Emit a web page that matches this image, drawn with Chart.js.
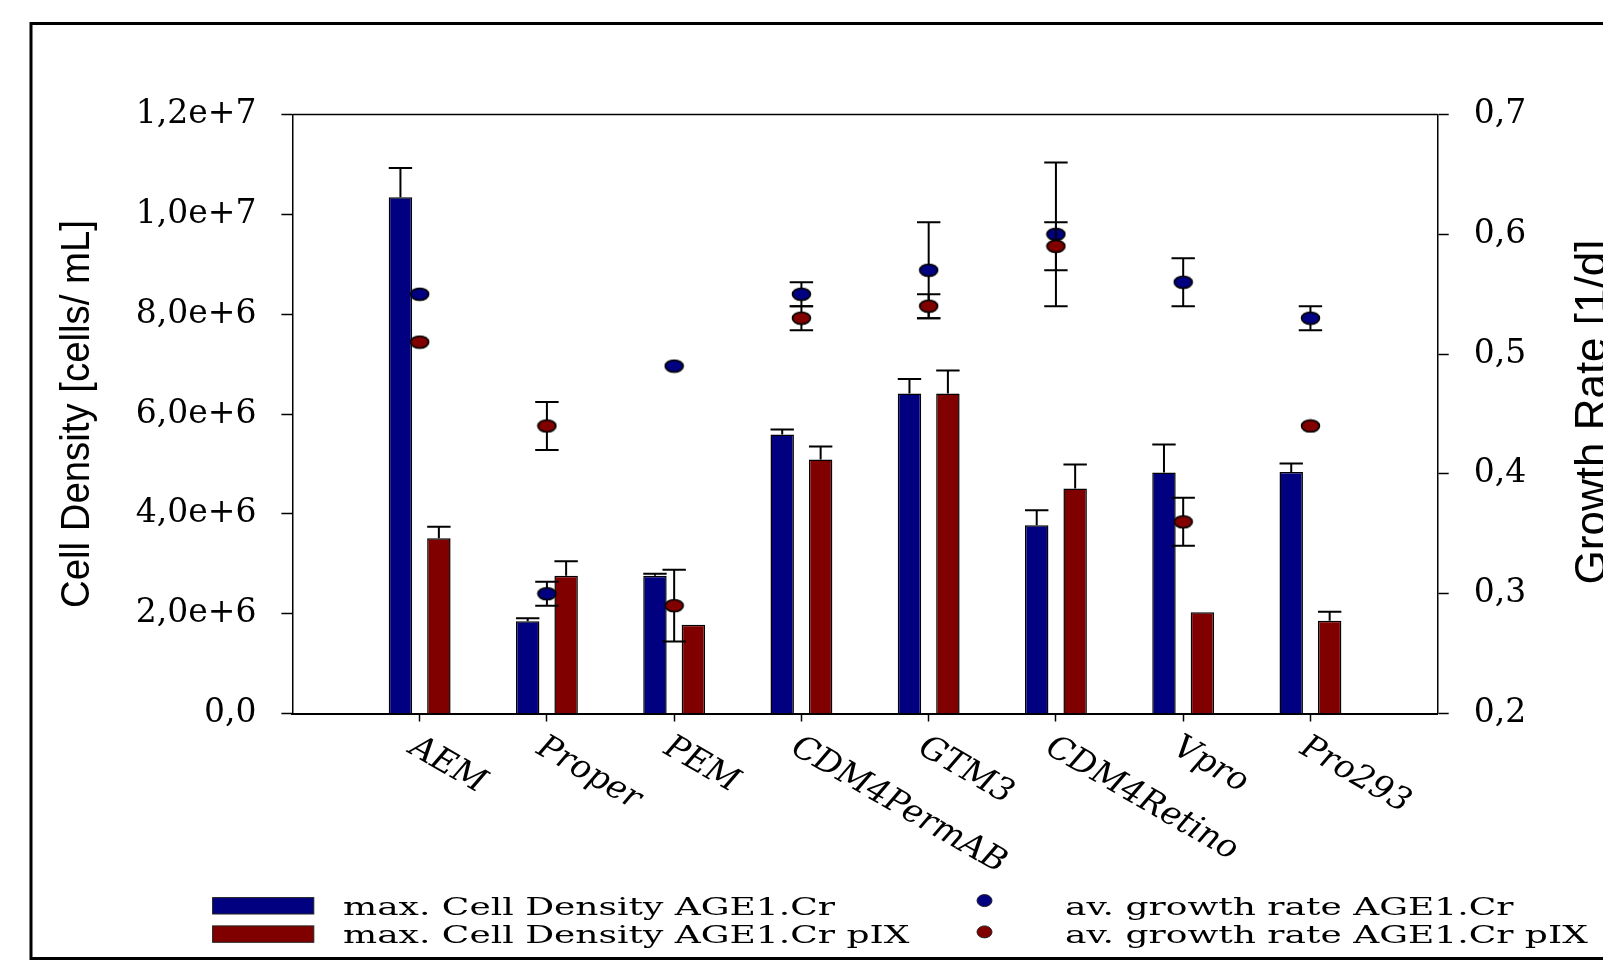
<!DOCTYPE html>
<html>
<head>
  <title>Cell Density and Growth Rate</title>
  <script src="https://cdn.jsdelivr.net/npm/chart.js"></script>
  <style>
    body { margin: 0; background: #fff; }
    canvas { display: block; }
  </style>
</head>
<body>
  <canvas id="myChart" width="1603" height="961"></canvas>

  <script>
    // media tested
    const categories = ['AEM', 'Proper', 'PEM', 'CDM4PermAB', 'GTM3', 'CDM4Retino', 'Vpro', 'Pro293'];

    // max. cell density [cells/mL] with upper error
    const densityAge    = [1.034e7, 1.85e6, 2.76e6, 5.59e6, 6.41e6, 3.77e6, 4.83e6, 4.84e6];
    const densityAgeErr = [5.9e5, 6e4, 4e4, 1e5, 2.9e5, 3.0e5, 5.6e5, 1.7e5];
    const densityPix    = [3.51e6, 2.76e6, 1.78e6, 5.09e6, 6.41e6, 4.51e6, 2.03e6, 1.86e6];
    const densityPixErr = [2.3e5, 2.9e5, 0, 2.6e5, 4.6e5, 4.8e5, 0, 1.8e5];

    // average growth rate [1/d] with +/- error
    const growthAge    = [0.55, 0.30, 0.49, 0.55, 0.57, 0.60, 0.56, 0.53];
    const growthAgeErr = [0, 0.01, 0, 0.01, 0.04, 0.06, 0.02, 0.01];
    const growthPix    = [0.51, 0.44, 0.29, 0.53, 0.54, 0.59, 0.36, 0.44];
    const growthPixErr = [0, 0.02, 0.03, 0.01, 0.01, 0.02, 0.02, 0];

    const navy = '#000080', maroon = '#800000';

    // one empty slot on each side, so the groups sit one step in from the axes
    const xLabels = ['', ...categories, ''];
    const pad = arr => [null, ...arr, null];

    // growth rate points are drawn as flat ellipses
    function ellipseMarker(color) {
      const c = document.createElement('canvas');
      c.width = 21; c.height = 15;
      const g = c.getContext('2d');
      g.beginPath();
      g.ellipse(10.5, 7.5, 9, 6, 0, 0, Math.PI * 2);
      g.fillStyle = color;
      g.fill();
      g.lineWidth = 1.6;
      g.strokeStyle = '#000';
      g.stroke();
      return c;
    }

    function drawErrors(chart, meta, upOnly) {
      const ds = chart.data.datasets[meta.index];
      if (!ds.errors) return;
      const yScale = chart.scales[meta.yAxisID];
      const ctx = chart.ctx;
      const half = 11.7;
      ctx.save();
      ctx.strokeStyle = '#000';
      ctx.lineWidth = 2;
      meta.data.forEach((el, i) => {
        const v = ds.data[i], e = ds.errors[i];
        if (v == null || !e) return;
        const x = el.x;
        const top = yScale.getPixelForValue(v + e);
        const bottom = upOnly ? el.y : yScale.getPixelForValue(v - e);
        ctx.beginPath();
        ctx.moveTo(x, bottom); ctx.lineTo(x, top);
        ctx.moveTo(x - half, top); ctx.lineTo(x + half, top);
        if (!upOnly) { ctx.moveTo(x - half, bottom); ctx.lineTo(x + half, bottom); }
        ctx.stroke();
      });
      ctx.restore();
    }

    const errorBars = {
      id: 'errorBars',
      // point errors go under the points, bar errors on top of the bars
      beforeDatasetDraw(chart, args) { if (args.meta.type === 'line') drawErrors(chart, args.meta, false); },
      afterDatasetDraw(chart, args) { if (args.meta.type === 'bar') drawErrors(chart, args.meta, true); }
    };

    const decorations = {
      id: 'decorations',
      afterDraw(chart) {
        const ctx = chart.ctx, area = chart.chartArea, xs = chart.scales.x;
        ctx.save();
        ctx.fillStyle = '#000';
        ctx.strokeStyle = '#000';

        // outer frame
        ctx.lineWidth = 3;
        ctx.beginPath();
        ctx.moveTo(1603, 23.5); ctx.lineTo(31, 23.5); ctx.lineTo(31, 958.5); ctx.lineTo(1603, 958.5);
        ctx.stroke();

        // top edge of the plot box
        ctx.lineWidth = 1.5;
        ctx.beginPath();
        ctx.moveTo(area.left, area.top); ctx.lineTo(area.right, area.top);
        ctx.stroke();

        // slanted category labels
        ctx.font = 'italic 33px "DejaVu Serif"';
        ctx.textAlign = 'left';
        ctx.textBaseline = 'alphabetic';
        categories.forEach((c, i) => {
          const x = xs.getPixelForValue(i + 1);
          ctx.save();
          ctx.translate(x - 12, area.bottom + 39);
          ctx.rotate(Math.PI / 6);
          ctx.fillText(c, 0, 0);
          ctx.restore();
        });

        // axis titles, narrow sans
        ctx.font = '40px "Liberation Sans"';
        ctx.textAlign = 'center';
        const leftTitle = 'Cell Density [cells/ mL]';
        const sx = 388 / ctx.measureText(leftTitle).width;
        ctx.save();
        ctx.translate(78, (area.top + area.bottom) / 2);
        ctx.rotate(-Math.PI / 2);
        ctx.scale(sx, 1);
        ctx.textBaseline = 'middle';
        ctx.fillText(leftTitle, 0, 0);
        ctx.restore();

        // right title runs off the edge of the figure
        ctx.font = '44px "Liberation Sans"';
        ctx.save();
        ctx.translate(1606, (area.top + area.bottom) / 2 - 2);
        ctx.rotate(-Math.PI / 2);
        ctx.textBaseline = 'alphabetic';
        ctx.fillText('Growth Rate [1/d]', 0, 0);
        ctx.restore();

        // legend, two columns
        const ds = chart.data.datasets;
        ctx.font = '25px "DejaVu Serif"';
        ctx.textAlign = 'left';
        ctx.textBaseline = 'alphabetic';
        const lx = 492 / ctx.measureText(ds[0].label).width;
        const rows = [915, 943.3];
        [0, 1].forEach(r => {
          const bar = ds[r], dot = ds[r + 2];
          ctx.fillStyle = bar.backgroundColor;
          ctx.fillRect(212.6, rows[r] - 17.4, 101.2, 16.4);
          ctx.lineWidth = 1;
          ctx.strokeStyle = '#222';
          ctx.strokeRect(212.6, rows[r] - 17.4, 101.2, 16.4);

          ctx.beginPath();
          ctx.ellipse(984.5, rows[r] - 14.4 + r * 3, 7.5, 6, 0, 0, Math.PI * 2);
          ctx.fillStyle = dot.pointBackgroundColor;
          ctx.fill();
          ctx.stroke();

          ctx.fillStyle = '#000';
          ctx.save();
          ctx.translate(343, rows[r]);
          ctx.scale(lx, 1);
          ctx.fillText(bar.label, 0, 0);
          ctx.restore();
          ctx.save();
          ctx.translate(1065, rows[r]);
          ctx.scale(lx, 1);
          ctx.fillText(dot.label, 0, 0);
          ctx.restore();
        });
        ctx.restore();
      }
    };

    Chart.defaults.font.family = '"DejaVu Serif"';
    Chart.defaults.color = '#000';

    new Chart(document.getElementById('myChart').getContext('2d'), {
      type: 'bar',
      data: {
        labels: xLabels,
        datasets: [
          { label: 'max. Cell Density AGE1.Cr', data: pad(densityAge), errors: pad(densityAgeErr),
            backgroundColor: navy, borderColor: '#000', borderWidth: 1.5, yAxisID: 'y', order: 3,
            categoryPercentage: 0.604, barPercentage: 0.61 },
          { label: 'max. Cell Density AGE1.Cr pIX', data: pad(densityPix), errors: pad(densityPixErr),
            backgroundColor: maroon, borderColor: '#000', borderWidth: 1.5, yAxisID: 'y', order: 3,
            categoryPercentage: 0.604, barPercentage: 0.61 },
          { type: 'line', label: 'av. growth rate AGE1.Cr', data: pad(growthAge), errors: pad(growthAgeErr),
            showLine: false, pointStyle: ellipseMarker(navy), pointBackgroundColor: navy, yAxisID: 'y2', order: 2 },
          { type: 'line', label: 'av. growth rate AGE1.Cr pIX', data: pad(growthPix), errors: pad(growthPixErr),
            showLine: false, pointStyle: ellipseMarker(maroon), pointBackgroundColor: maroon, yAxisID: 'y2', order: 1 }
        ]
      },
      options: {
        responsive: false,
        animation: false,
        events: [],
        layout: { padding: { top: 114.5, left: 0, right: 0, bottom: 0 } },
        plugins: { legend: { display: false }, tooltip: { enabled: false } },
        scales: {
          x: {
            offset: false,
            afterFit: s => { s.height = 247.5; },
            ticks: { display: false },
            grid: {
              offset: false, drawOnChartArea: false, tickLength: 8, tickWidth: 1.5,
              tickColor: c => (c.index === 0 || c.index === xLabels.length - 1) ? 'rgba(0,0,0,0)' : '#000'
            },
            border: { color: '#000', width: 2 }
          },
          y: {
            position: 'left', min: 0, max: 1.2e7,
            afterFit: s => { s.width = 292.4; },
            ticks: {
              stepSize: 2e6, padding: 25, font: { size: 33 },
              callback: v => v === 0 ? '0,0' : v.toExponential(1).replace('.', ',')
            },
            grid: { drawOnChartArea: false, tickLength: 11, tickWidth: 1.5, color: '#000' },
            border: { color: '#000', width: 1.5 }
          },
          y2: {
            position: 'right', min: 0.2, max: 0.7,
            afterFit: s => { s.width = 165.3; },
            ticks: {
              stepSize: 0.1, padding: 25, font: { size: 33 },
              callback: v => v.toFixed(1).replace('.', ',')
            },
            grid: { drawOnChartArea: false, tickLength: 11, tickWidth: 1.5, color: '#000' },
            border: { color: '#000', width: 1.5 }
          }
        }
      },
      plugins: [errorBars, decorations]
    });
  </script>
</body>
</html>
